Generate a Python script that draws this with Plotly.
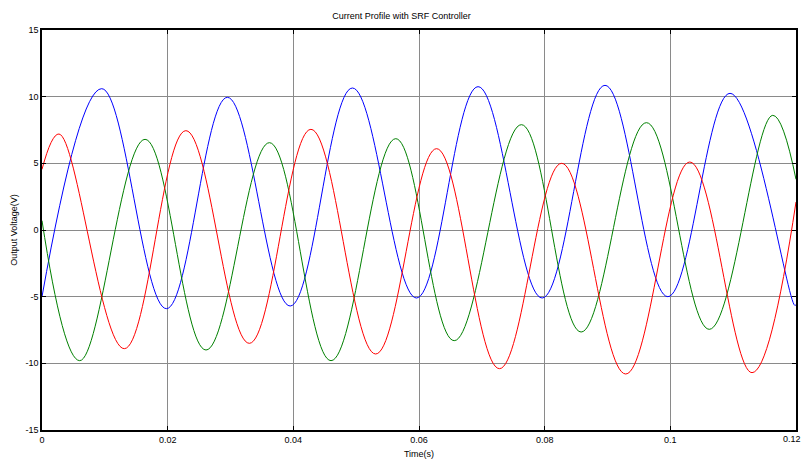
import plotly.graph_objects as go

# Extrema (time in s, value in V)
blue_t = [0.0, 0.0095, 0.0198, 0.0295, 0.0395, 0.0494, 0.0596, 0.0694, 0.0796, 0.0896, 0.0996, 0.1095, 0.1198, 0.12]
blue_v = [-5.0, 10.6, -5.9, 9.95, -5.7, 10.65, -5.1, 10.75, -5.1, 10.85, -5.0, 10.25, -5.65, -5.6]

green_t = [0.0, 0.0060, 0.0164, 0.0261, 0.0362, 0.0460, 0.0563, 0.0656, 0.0763, 0.0858, 0.0962, 0.1062, 0.1163, 0.12]
green_v = [0.7, -9.8, 6.8, -9.0, 6.55, -9.8, 6.85, -8.3, 7.9, -7.65, 8.05, -7.45, 8.6, 3.8]

red_t = [0.0, 0.0027, 0.0131, 0.0229, 0.0330, 0.0428, 0.0531, 0.0628, 0.0728, 0.0827, 0.0929, 0.1031, 0.1130, 0.12]
red_v = [4.55, 7.2, -8.9, 7.45, -8.5, 7.55, -9.3, 6.1, -10.4, 5.0, -10.8, 5.1, -10.7, 2.1]

x_ticks = [0, 0.02, 0.04, 0.06, 0.08, 0.1, 0.12]
x_tick_text = ["0", "0.02", "0.04", "0.06", "0.08", "0.1", "0.12"]
y_ticks = [-15, -10, -5, 0, 5, 10, 15]
y_tick_text = ["-15", "-10", "-5", "0", "5", "10", "15"]

FONT = "Arial, Liberation Sans, sans-serif"

fig = go.Figure()
for t, v, c in [(blue_t, blue_v, "#0000ff"), (green_t, green_v, "#008000"), (red_t, red_v, "#ff0000")]:
    fig.add_trace(go.Scatter(x=t, y=v, mode="lines",
                             line=dict(color=c, width=1, shape="spline", smoothing=1.1),
                             showlegend=False, hoverinfo="skip", cliponaxis=True))

axis_common = dict(
    showgrid=True, gridcolor="#8a8a8a", gridwidth=1,
    zeroline=False, showline=True, linecolor="black", linewidth=1.5,
    mirror="ticks", ticks="inside", ticklen=4, tickcolor="black",
    tickfont=dict(family=FONT, size=9, color="black"),
    automargin=False,
)

fig.update_xaxes(range=[0, 0.12], tickvals=x_ticks, ticktext=x_tick_text,
                 title=dict(text="Time(s)", font=dict(family=FONT, size=9, color="black"), standoff=7),
                 **axis_common)
fig.update_yaxes(range=[-15, 15], tickvals=y_ticks, ticktext=y_tick_text,
                 title=dict(text="Output Voltage(V)", font=dict(family=FONT, size=9, color="black"), standoff=6),
                 **axis_common)

# last x tick label sits at the page edge; plotly hides it, so draw it as text kept inside the page
fig.add_annotation(x=x_ticks[-1], xref="x", y=0, yref="paper", yanchor="top", yshift=-2,
                   xanchor="center", xshift=-4,
                   text=x_tick_text[-1], showarrow=False,
                   font=dict(family=FONT, size=9, color="black"))

fig.update_layout(
    width=803, height=464,
    margin=dict(l=42, r=7, t=30, b=34, autoexpand=False),
    paper_bgcolor="white", plot_bgcolor="white",
    title=dict(text="Current Profile with SRF Controller", x=0.5, xanchor="center",
               y=1 - 16 / 464, yanchor="middle",
               font=dict(family=FONT, size=9, color="black")),
)

fig.write_html("out.html")
